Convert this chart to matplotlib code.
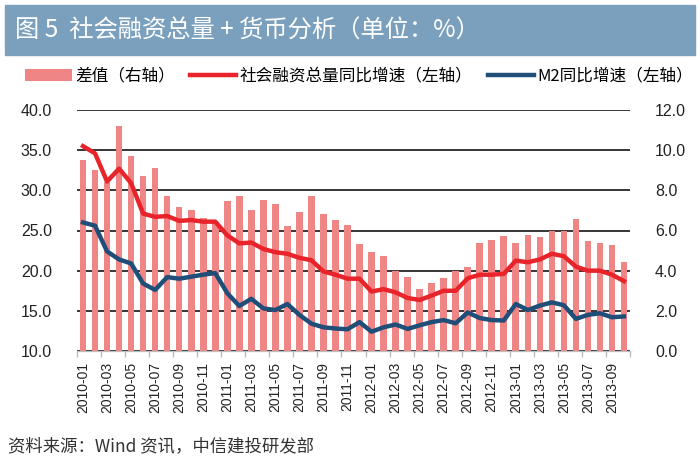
import matplotlib

matplotlib.use("Agg")
import matplotlib.pyplot as plt
import numpy as np
import pandas as pd
from matplotlib.lines import Line2D
from matplotlib.patches import Patch, Rectangle

plt.rcParams["font.family"] = ["Liberation Sans", "Noto Sans CJK SC", "DejaVu Sans"]

# monthly, 2010-01 .. 2013-10
months = [p.strftime("%Y-%m") for p in pd.period_range("2010-01", "2013-10", freq="M")]

# 社会融资总量同比增速 (left axis, %)
tsf_growth = [35.5, 34.6, 31.1, 32.7, 30.9, 27.1, 26.7, 26.8, 26.2, 26.3, 26.1, 26.1,
              24.4, 23.4, 23.5, 22.7, 22.3, 22.1, 21.6, 21.3, 19.9, 19.5, 19.0, 19.0,
              17.4, 17.7, 17.3, 16.6, 16.35, 16.9, 17.5, 17.5, 19.05, 19.5, 19.5, 19.6,
              21.25, 21.05, 21.4, 22.1, 21.8, 20.5, 20.0, 20.0, 19.5, 18.7]

# M2同比增速 (left axis, %)
m2_growth = [26.0, 25.6, 22.4, 21.4, 20.9, 18.4, 17.6, 19.2, 19.0, 19.25, 19.5, 19.7,
             17.2, 15.6, 16.5, 15.3, 15.1, 15.85, 14.5, 13.4, 12.95, 12.8, 12.7, 13.6,
             12.4, 12.95, 13.3, 12.75, 13.2, 13.6, 13.85, 13.45, 14.8, 14.1, 13.85, 13.8,
             15.85, 15.1, 15.65, 16.05, 15.7, 14.0, 14.5, 14.7, 14.2, 14.3]

# 差值 (right axis, %)
spread = [9.5, 9.0, 8.4, 11.2, 9.7, 8.7, 9.1, 7.7, 7.15, 7.0, 6.6, 6.4,
          7.45, 7.7, 7.0, 7.5, 7.3, 6.2, 6.9, 7.7, 6.8, 6.5, 6.25, 5.35,
          4.95, 4.75, 4.0, 3.7, 3.1, 3.4, 3.65, 4.0, 4.2, 5.4, 5.55, 5.75,
          5.4, 5.8, 5.7, 6.0, 6.0, 6.55, 5.5, 5.4, 5.3, 4.45]

bar_color = "#F08585"
red = "#E8232A"
blue = "#1F4E79"
title_bg = "#7AA0BE"
cjk = ["Noto Sans CJK SC", "DejaVu Sans"]

fig = plt.figure(figsize=(7, 4.7), dpi=100)

# title bar
fig.patches.append(Rectangle((5 / 700, 1 - 55 / 470), 690 / 700, 50 / 470,
                             transform=fig.transFigure, color=title_bg, zorder=0))
fig.text(15 / 700, 1 - 31 / 470, "图 5  社会融资总量 + 货币分析（单位：%）",
         color="white", fontsize=17.5, va="center", ha="left", family=cjk)

ax = fig.add_axes([77 / 700, 119 / 470, 553 / 700, 241 / 470])
ax_r = ax.twinx()
ax.set_zorder(ax_r.get_zorder() + 1)
ax.patch.set_visible(False)

x = np.arange(len(months))
ax_r.bar(x, spread, width=0.55, color=bar_color, zorder=2)
ax.plot(x, tsf_growth, color=red, linewidth=3.2, solid_joinstyle="round")
ax.plot(x, m2_growth, color=blue, linewidth=3.2, solid_joinstyle="round")

ax.set_ylim(10, 40)
ax.set_yticks(np.arange(10, 41, 5))
ax.set_yticklabels([f"{v:.1f}" for v in np.arange(10, 41, 5)])
ax_r.set_ylim(0, 12)
ax_r.set_yticks(np.arange(0, 13, 2))
ax_r.set_yticklabels([f"{v:.1f}" for v in np.arange(0, 13, 2)])

for a in (ax, ax_r):
    for s in ("top", "left", "right"):
        a.spines[s].set_visible(False)
    a.spines["bottom"].set_color("#BFBFBF")
    a.tick_params(axis="y", length=0, labelsize=11.5, labelcolor="#222222", pad=18)

ax_r.set_axisbelow(True)
for v in np.arange(0, 13, 2):
    ax_r.axhline(v, color="black", linewidth=1.1, zorder=1)

ax.set_xlim(-0.5, len(months) - 0.5)
ax.set_xticks(x[::2])
ax.set_xticklabels(months[::2], rotation=90, fontsize=10, color="#222222")
ax.tick_params(axis="x", which="major", length=0, pad=8)
ax.set_xticks(np.arange(-0.5, len(months), 2), minor=True)
ax.tick_params(axis="x", which="minor", length=4, color="#BFBFBF", width=1)
ax_r.tick_params(axis="x", length=0)

handles = [
    Patch(facecolor=bar_color, edgecolor="none"),
    Line2D([], [], color=red, linewidth=3.2),
    Line2D([], [], color=blue, linewidth=3.2),
]
labels = ["差值（右轴）", "社会融资总量同比增速（左轴）", "M2同比增速（左轴）"]
fig.legend(handles, labels, loc="center", bbox_to_anchor=(0.513, 1 - 76 / 470), ncol=3,
           frameon=False, handlelength=2.8, handletextpad=0.2, columnspacing=0.9,
           prop={"family": cjk, "size": 12})

fig.text(8 / 700, 1 - 446 / 470, "资料来源：Wind 资讯，中信建投研发部",
         fontsize=12.5, color="#333333", va="center", ha="left", family=cjk)

fig.savefig("out.png", dpi=100)
plt.close(fig)
